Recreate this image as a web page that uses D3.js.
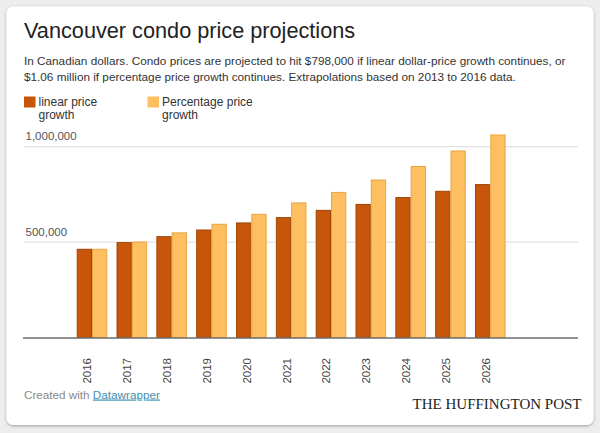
<!DOCTYPE html>
<html>
<head>
<meta charset="utf-8">
<script src="https://cdn.jsdelivr.net/npm/d3@7"></script>
<style>
  html, body { margin: 0; padding: 0; background: #ededed; }
  svg { display: block; }
  text { font-family: "Liberation Sans", Arial, sans-serif; }
  text.serif { font-family: "Liberation Serif", "Times New Roman", serif; }
</style>
</head>
<body>
<svg id="chart" width="600" height="433"></svg>
<script>
// ---- data ----
const years = ["2016","2017","2018","2019","2020","2021","2022","2023","2024","2025","2026"];
const linearGrowth = [465000, 500000, 531000, 566000, 603000, 631000, 669000, 700000, 736000, 769000, 804000];
const percentageGrowth = [465000, 503000, 551000, 596000, 648000, 708000, 763000, 828000, 899000, 980000, 1064000];
const seriesNames = ["linear price growth", "Percentage price growth"];
const yTicks = [500000, 1000000];

// ---- layout ----
const svg = d3.select("#chart");
const W = 600, H = 433;
const plotLeft = 24, plotRight = 578;
const colors = { linear: "#c8560a", pct: "#fdbf5f" };
const strokes = { linear: "#9e4507", pct: "#e9a545" };

const defs = svg.append("defs");
const f = defs.append("filter").attr("id", "shadow").attr("x", "-5%").attr("y", "-5%").attr("width", "110%").attr("height", "110%");
f.append("feGaussianBlur").attr("in", "SourceAlpha").attr("stdDeviation", 1.8);
f.append("feOffset").attr("dx", 0).attr("dy", 1).attr("result", "ob");
f.append("feComponentTransfer").append("feFuncA").attr("type", "linear").attr("slope", 0.35);
const fm = f.append("feMerge");
fm.append("feMergeNode");
fm.append("feMergeNode").attr("in", "SourceGraphic");

svg.append("rect").attr("width", W).attr("height", H).attr("fill", "#ededed");
svg.append("rect").attr("x", 6.5).attr("y", 6.5).attr("width", 587).attr("height", 418.5)
  .attr("rx", 7).attr("fill", "#ffffff").attr("filter", "url(#shadow)");

// title & subtitle
svg.append("text").attr("x", 24).attr("y", 37.5).attr("font-size", 21.7).attr("fill", "#222")
  .text("Vancouver condo price projections");
const sub = svg.append("text").attr("font-size", 11.75).attr("fill", "#333");
sub.append("tspan").attr("x", 24).attr("y", 64.5)
  .text("In Canadian dollars. Condo prices are projected to hit $798,000 if linear dollar-price growth continues, or");
sub.append("tspan").attr("x", 24).attr("y", 81)
  .text("$1.06 million if percentage price growth continues. Extrapolations based on 2013 to 2016 data.");

// legend
const legendItems = [
  { key: "linear", x: 24, lines: ["linear price", "growth"] },
  { key: "pct", x: 147.5, lines: ["Percentage price", "growth"] }
];
legendItems.forEach(d => {
  svg.append("rect").attr("x", d.x).attr("y", 96.5).attr("width", 11.5).attr("height", 11)
    .attr("fill", colors[d.key]);
  const t = svg.append("text").attr("font-size", 12).attr("fill", "#333");
  d.lines.forEach((l, i) => t.append("tspan").attr("x", d.x + 14.5).attr("y", 105.5 + i * 13.3).text(l));
});

// scales
const y = d3.scaleLinear().domain([0, 1000000]).range([337.5, 146.7]);
const x = d3.scaleBand().domain(years).range([76.7, 505.6]).paddingInner(0.232).paddingOuter(0);
const xs = d3.scaleBand().domain(["linear", "pct"]).range([0, x.bandwidth()]).padding(0);

// gridlines + y labels
const fmt = d3.format(",");
yTicks.forEach(v => {
  svg.append("line").attr("x1", plotLeft).attr("x2", plotRight).attr("y1", y(v)).attr("y2", y(v))
    .attr("stroke", "#dcdcdc").attr("stroke-width", 1);
  svg.append("text").attr("x", 25.5).attr("y", y(v) - 6.5).attr("font-size", 11.5).attr("fill", "#555")
    .text(fmt(v));
});

// bars
const rows = years.map((yr, i) => ({ year: yr, linear: linearGrowth[i], pct: percentageGrowth[i] }));
const groups = svg.append("g").selectAll("g").data(rows).join("g")
  .attr("transform", d => `translate(${x(d.year)},0)`);
groups.selectAll("rect").data(d => ["linear", "pct"].map(k => ({ key: k, value: d[k] }))).join("rect")
  .attr("x", d => xs(d.key) + 0.5)
  .attr("y", d => y(d.value) + 0.5)
  .attr("width", xs.bandwidth() - 1)
  .attr("height", d => y(0) - y(d.value) - 0.5)
  .attr("fill", d => colors[d.key])
  .attr("stroke", d => strokes[d.key])
  .attr("stroke-width", 1);

// baseline
svg.append("line").attr("x1", plotLeft - 1).attr("x2", plotRight).attr("y1", y(0) + 0.5).attr("y2", y(0) + 0.5)
  .attr("stroke", "#6e6e6e").attr("stroke-width", 1.6);

// x axis labels
const xAxis = svg.append("g").attr("transform", "translate(0,358)")
  .call(d3.axisBottom(x).tickSize(0));
xAxis.select(".domain").remove();
xAxis.selectAll("text")
  .attr("transform", "rotate(-90)")
  .attr("x", 0).attr("y", -0.5).attr("dy", "0")
  .attr("text-anchor", "end")
  .attr("font-size", 11.5)
  .style("font-family", "'Liberation Sans', Arial, sans-serif")
  .attr("fill", "#444");

// footer
const credit = svg.append("text").attr("x", 24).attr("y", 398.5).attr("font-size", 11.7).attr("fill", "#8a8a8a");
credit.append("tspan").text("Created with ");
credit.append("tspan").attr("fill", "#3f8fb0").attr("text-decoration", "underline").text("Datawrapper");

svg.append("text").attr("class", "serif").attr("x", 581.5).attr("y", 408.5).attr("text-anchor", "end")
  .attr("font-size", 15).attr("fill", "#222").text("THE HUFFINGTON POST");
</script>
</body>
</html>
